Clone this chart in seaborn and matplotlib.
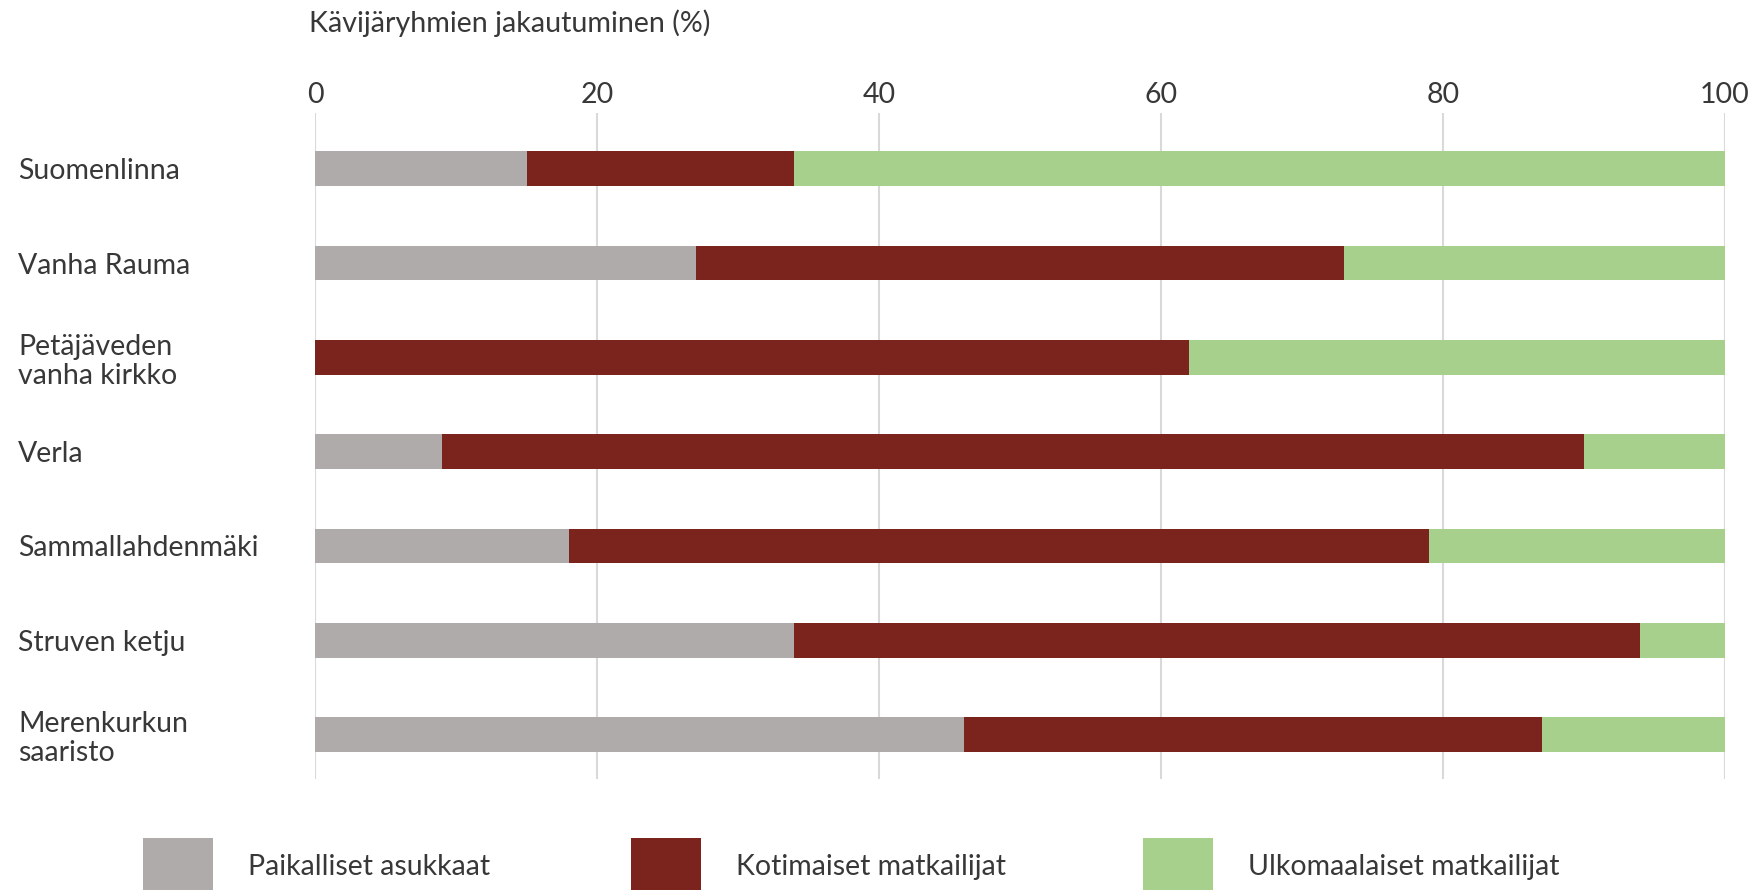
import matplotlib
matplotlib.use("Agg")
import matplotlib.pyplot as plt
import seaborn as sns
import pandas as pd
import numpy as np
from matplotlib.patches import Patch

sites = ["Suomenlinna", "Vanha Rauma", "Petäjäveden\nvanha kirkko", "Verla",
         "Sammallahdenmäki", "Struven ketju", "Merenkurkun\nsaaristo"]
paikalliset = [15, 27, 0, 9, 18, 34, 46]
kotimaiset = [19, 46, 62, 81, 61, 60, 41]
ulkomaalaiset = [66, 27, 38, 10, 21, 6, 13]
series_names = ["Paikalliset asukkaat", "Kotimaiset matkailijat", "Ulkomaalaiset matkailijat"]
colors = ["#AEABAA", "#7A241D", "#A8D08D"]
xticks = [0, 20, 40, 60, 80, 100]
title = "Kävijäryhmien jakautuminen (%)"

sns.set_theme(style="white")
plt.rcParams['font.family'] = ['Lato', 'DejaVu Sans']
txt = "#383838"
FS = 20.5

df = pd.DataFrame({"site": sites, "p": paikalliset, "k": kotimaiset, "u": ulkomaalaiset})
df["c1"] = df["p"]
df["c2"] = df["p"] + df["k"]
df["c3"] = df["p"] + df["k"] + df["u"]

fig = plt.figure(figsize=(17.64, 8.90), dpi=100)
ax = fig.add_axes([315/1764, 1-778.5/890, (1725-315)/1764, (778.5-112.5)/890])

for col, c in zip(["c3", "c2", "c1"], colors[::-1]):
    sns.barplot(data=df, x=col, y="site", orient="h", color=c, width=0.37,
                ax=ax, saturation=1, linewidth=0, zorder=3)

ax.set_xlim(0, 100)
ax.set_ylim(6.465, -0.596)
ax.set_xticks(xticks)
ax.xaxis.tick_top()
ax.tick_params(axis='x', length=0, pad=3, labelsize=FS, labelcolor=txt)
ax.tick_params(axis='y', length=0, labelsize=FS, labelcolor=txt)
for lab in ax.get_yticklabels():
    lab.set_horizontalalignment('left')
    lab.set_linespacing(1.15)
ax.tick_params(axis='y', pad=(315-18)*72/100)
ax.set_xlabel("")
ax.set_ylabel("")
for s in ax.spines.values():
    s.set_visible(False)
ax.grid(axis='x', color="#D9D9D9", linewidth=1.5, zorder=0)
ax.set_axisbelow(True)

fig.text(309/1764, 1-23/890, title, fontsize=20.6, color=txt, va='center', ha='left')

fs_px = FS * 100 / 72
patch_left = [143, 631, 1143]
for name, c, xl in zip(series_names, colors, patch_left):
    fig.legend([Patch(facecolor=c, edgecolor='none')], [name], loc='upper left',
               bbox_to_anchor=(xl/1764, 1-838/890), frameon=False, fontsize=FS,
               labelcolor=txt, handlelength=70/fs_px, handleheight=76/fs_px,
               handletextpad=(247.5-213)/fs_px, borderaxespad=0, borderpad=0)

fig.savefig("out.png", dpi=100)
